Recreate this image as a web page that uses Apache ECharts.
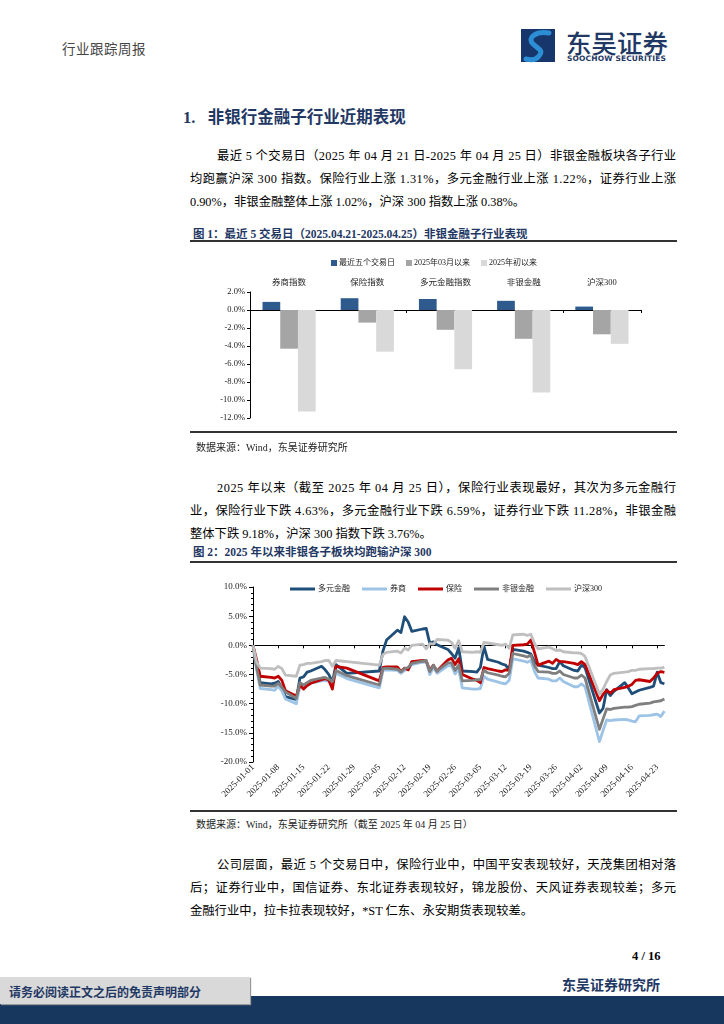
<!DOCTYPE html>
<html><head><meta charset="utf-8">
<script src="https://cdn.jsdelivr.net/npm/echarts@6.0.0/dist/echarts.min.js"></script>
<style>
body{margin:0;background:#fff;}
#page{position:relative;width:724px;height:1024px;overflow:hidden;font-family:'Liberation Serif','Noto Sans CJK SC',serif;color:#000;}
.abs{position:absolute;white-space:nowrap;}
.jl{position:absolute;font-size:12.3px;line-height:23px;height:23px;white-space:nowrap;}
.ll{position:absolute;font-size:12.3px;line-height:23px;white-space:nowrap;}
.navy{color:#1F3864;}
.rule{position:absolute;left:190px;width:487px;height:2px;background:#333;}
.src{position:absolute;left:196px;font-size:10px;white-space:nowrap;color:#222;}
</style></head>
<body><div id="page">
<div class="abs" style="left:62px;top:38px;font-size:13.5px;color:#444;letter-spacing:0.5px;">行业跟踪周报</div>
<svg class="abs" style="left:521px;top:29px" width="36" height="34" viewBox="0 0 36 34">
<rect x="0" y="0" width="34" height="33" fill="#17366B"/>
<path d="M28 4 C14 2 6 9 12 15 C17 20 23 21 18 27 C15 31 9 31 5 30" stroke="#2C8FD6" stroke-width="5" fill="none" stroke-linecap="round"/>
</svg>
<div class="abs" style="left:566px;top:23px;font-size:25.5px;font-family:'Noto Sans CJK SC';font-weight:500;color:#1F3864;">东吴证券</div>
<div class="abs" style="left:567px;top:54px;font-size:7.5px;font-family:'DejaVu Sans';font-weight:bold;color:#1F3864;letter-spacing:0.15px;">SOOCHOW SECURITIES</div>

<div class="abs navy" style="left:183px;top:104px;font-size:16.5px;font-weight:bold;">1.&nbsp;&nbsp;&nbsp;非银行金融子行业近期表现</div>

<div class="jl" data-w="459" style="left:217px;top:145px;">最近 5 个交易日（2025 年 04 月 21 日-2025 年 04 月 25 日）非银金融板块各子行业</div>
<div class="jl" data-w="486" style="left:190px;top:168px;">均跑赢沪深 300 指数。保险行业上涨 1.31%，多元金融行业上涨 1.22%，证券行业上涨</div>
<div class="ll" style="left:190px;top:191px;">0.90%，非银金融整体上涨 1.02%，沪深 300 指数上涨 0.38%。</div>

<div class="abs navy" style="left:193px;top:225px;font-size:11.5px;font-weight:bold;">图 1：最近 5 交易日（2025.04.21-2025.04.25）非银金融子行业表现</div>
<div class="rule" style="top:240px;"></div>
<div id="c1" style="position:absolute;left:180px;top:243px;width:500px;height:190px;"></div>
<div class="rule" style="top:431px;height:1.5px;"></div>
<div class="src" style="top:439px;">数据来源：Wind，东吴证券研究所</div>

<div class="jl" data-w="459" style="left:217px;top:477px;">2025 年以来（截至 2025 年 04 月 25 日），保险行业表现最好，其次为多元金融行</div>
<div class="jl" data-w="486" style="left:190px;top:500px;">业，保险行业下跌 4.63%，多元金融行业下跌 6.59%，证券行业下跌 11.28%，非银金融</div>
<div class="ll" style="left:190px;top:523px;">整体下跌 9.18%，沪深 300 指数下跌 3.76%。</div>

<div class="abs navy" style="left:193px;top:543px;font-size:11.5px;font-weight:bold;">图 2：2025 年以来非银各子板块均跑输沪深 300</div>
<div class="rule" style="top:561px;"></div>
<div id="c2" style="position:absolute;left:180px;top:565px;width:510px;height:245px;"></div>
<div class="rule" style="top:810px;height:1.5px;"></div>
<div class="src" style="top:816px;">数据来源：Wind，东吴证券研究所（截至 2025 年 04 月 25 日）</div>

<div class="jl" data-w="459" style="left:217px;top:854px;">公司层面，最近 5 个交易日中，保险行业中，中国平安表现较好，天茂集团相对落</div>
<div class="jl" data-w="486" style="left:190px;top:877px;">后；证券行业中，国信证券、东北证券表现较好，锦龙股份、天风证券表现较差；多元</div>
<div class="ll" style="left:190px;top:900px;">金融行业中，拉卡拉表现较好，*ST 仁东、永安期货表现较差。</div>

<div class="abs" style="left:632px;top:949px;font-size:12.5px;font-weight:bold;">4 / 16</div>
<div class="abs navy" style="left:562px;top:974px;font-size:14px;font-weight:bold;">东吴证券研究所</div>
<div style="position:absolute;left:0;top:996px;width:724px;height:28px;background:#17375E;"></div>
<div style="position:absolute;left:0;top:977px;width:250px;height:27px;background:#D9D9D9;box-shadow:1px 1px 1px #999;"></div>
<div class="abs navy" style="left:9px;top:983px;font-size:12px;font-weight:bold;">请务必阅读正文之后的免责声明部分</div>
</div>
<script>
// justify each full text line to its target width
Array.prototype.forEach.call(document.querySelectorAll('.jl'), function (el) {
  var target = parseFloat(el.getAttribute('data-w'));
  var txt = el.textContent;
  var span = document.createElement('span');
  span.textContent = txt;
  el.textContent = '';
  el.appendChild(span);
  var w = span.getBoundingClientRect().width;
  var ls = (target - w) / (txt.length - 1);
  span.style.letterSpacing = ls + 'px';
});

var FONT = "'Liberation Serif','Noto Sans CJK SC',serif";

// ---------- Figure 1 data ----------
var barCategories = ['券商指数', '保险指数', '多元金融指数', '非银金融', '沪深300'];
var barLegend = ['最近五个交易日', '2025年03月以来', '2025年初以来'];
var last5Days = [0.90, 1.31, 1.22, 1.02, 0.38];
var sinceMarch = [-4.3, -1.4, -2.2, -3.2, -2.7];
var sinceYearStart = [-11.28, -4.63, -6.59, -9.18, -3.76];

// ---------- Figure 2 data ----------
var tradeDates = ['01-01','01-02','01-03','01-06','01-07','01-08','01-09','01-10','01-13','01-14','01-15','01-16','01-17','01-20','01-21','01-22','01-23','01-24','01-27',
'02-05','02-06','02-07','02-10','02-11','02-12','02-13','02-14','02-17','02-18','02-19','02-20','02-21','02-24','02-25','02-26','02-27','02-28',
'03-03','03-04','03-05','03-06','03-07','03-10','03-11','03-12','03-13','03-14','03-17','03-18','03-19','03-20','03-21','03-24','03-25','03-26','03-27','03-28','03-31',
'04-01','04-02','04-03','04-07','04-08','04-09','04-10','04-11','04-14','04-15','04-16','04-17','04-18','04-21','04-22','04-23','04-24','04-25'];
var lineNames = ['多元金融', '券商', '保险', '非银金融', '沪深300'];
var duoyuan = [0,-3.5,-6.4,-6.6,-6.5,-6.2,-7.4,-8.8,-9.3,-5.6,-5.4,-4.6,-4.4,-3.6,-4.2,-5.0,-6.3,-3.3,-4.8,
-4.4,-1.0,0.9,2.6,2.2,4.9,4.0,2.4,2.8,2.9,0.3,0.6,0.1,-0.7,-1.4,-2.2,-0.4,-4.4,
-4.5,-4.6,-3.8,-0.2,-2.4,-2.9,-3.2,-3.4,-4.2,-0.7,-1.0,-1.2,-1.5,-2.8,-3.4,-3.8,-4.0,-4.0,-2.8,-3.5,-4.3,
-4.4,-3.4,-3.8,-11.6,-10.8,-7.6,-8.6,-7.9,-6.4,-7.3,-8.3,-8.0,-7.7,-7.2,-7.0,-4.6,-6.4,-6.59];
var quanshang = [0,-4.2,-7.4,-7.6,-7.7,-7.0,-7.8,-9.2,-10.0,-7.0,-7.3,-6.9,-6.5,-6.1,-6.0,-6.2,-6.6,-4.8,-5.7,
-7.3,-4.3,-4.2,-4.3,-4.8,-4.3,-4.1,-3.3,-2.9,-2.8,-5.0,-3.8,-4.8,-3.5,-3.5,-4.9,-4.0,-7.3,
-7.5,-7.5,-7.4,-5.3,-5.8,-6.3,-6.5,-6.6,-6.0,-2.3,-2.7,-2.9,-2.6,-4.5,-5.6,-5.8,-6.1,-6.1,-5.6,-6.2,-7.1,
-7.1,-6.6,-7.1,-16.5,-14.6,-12.8,-12.9,-12.8,-12.7,-12.8,-13.0,-13.1,-12.1,-12.0,-11.9,-11.8,-12.2,-11.28];
var baoxian = [0,-2.5,-5.3,-5.5,-5.6,-5.3,-6.0,-7.8,-8.7,-6.8,-7.5,-6.9,-6.5,-5.9,-5.7,-6.0,-7.5,-3.6,-3.9,
-6.1,-3.8,-3.7,-3.7,-4.5,-3.9,-4.2,-2.8,-2.6,-2.7,-4.3,-3.4,-4.4,-2.5,-2.2,-3.3,-2.3,-5.0,
-5.8,-6.0,-6.4,-3.8,-4.0,-4.4,-4.5,-4.2,-4.3,0.0,0.1,0.2,0.9,-1.2,-3.4,-2.7,-3.1,-2.4,-2.8,-2.8,-3.1,
-3.3,-2.8,-3.3,-9.5,-8.4,-7.7,-8.2,-7.6,-7.2,-7.0,-6.7,-6.0,-5.9,-6.2,-5.6,-4.8,-4.5,-4.63];
var feiyin = [0,-3.8,-6.8,-7.0,-7.0,-6.5,-7.2,-8.0,-9.1,-6.4,-6.8,-6.4,-6.0,-5.6,-5.5,-5.8,-6.2,-4.3,-5.2,
-6.8,-4.0,-3.9,-4.1,-4.5,-4.0,-3.8,-3.1,-2.7,-2.6,-4.5,-3.4,-4.4,-3.0,-3.0,-4.3,-3.4,-6.1,
-6.0,-5.9,-5.9,-4.3,-4.7,-5.1,-5.3,-5.4,-4.8,-1.4,-1.8,-2.0,-1.7,-3.5,-4.5,-4.6,-4.8,-4.8,-4.4,-5.0,-5.6,
-5.6,-5.1,-5.6,-14.4,-12.6,-10.9,-11.0,-10.8,-10.6,-10.6,-10.5,-10.3,-10.1,-9.9,-9.7,-9.6,-9.5,-9.18];
var hs300 = [0,-2.9,-3.9,-4.0,-4.1,-3.6,-4.0,-5.1,-5.3,-3.4,-3.3,-3.1,-3.1,-2.8,-2.6,-2.6,-3.6,-2.6,-2.8,
-3.4,-1.6,-1.2,-1.0,-1.3,-0.5,-0.8,0.0,0.2,-0.6,0.3,0.2,1.0,0.9,0.5,-0.5,0.8,-1.1,
-1.2,-1.1,-1.2,0.5,0.4,0.1,0.0,0.2,-0.5,1.8,1.9,1.7,1.9,0.3,-0.6,-0.3,-0.6,-0.9,-0.8,-1.1,-1.3,
-1.3,-1.4,-1.9,-8.4,-7.5,-6.2,-5.1,-4.8,-4.6,-4.5,-4.3,-4.3,-4.1,-4.0,-4.0,-3.9,-3.9,-3.76];
var lineColors = ['#1F4E79', '#9DC3E6', '#C00000', '#7F7F7F', '#BFBFBF'];

// calendar axis (every day from 2025-01-01 to 2025-04-25)
var calendarDays = [];
(function () {
  var d = new Date(Date.UTC(2025, 0, 1)), end = Date.UTC(2025, 3, 25);
  while (d.getTime() <= end) {
    calendarDays.push(d.toISOString().slice(0, 10));
    d = new Date(d.getTime() + 86400000);
  }
})();

var pct1 = function (v) { return v.toFixed(1) + '%'; };

var c1 = echarts.init(document.getElementById('c1'), null, {renderer: 'canvas'});
c1.setOption({
  animation: false,
  textStyle: {fontFamily: FONT},
  legend: {
    data: barLegend, top: 11, left: 146, itemWidth: 6, itemHeight: 6, itemGap: 11,
    icon: 'rect', textStyle: {fontSize: 8, fontFamily: FONT, color: '#222', padding: [0, 0, 0, -3]}
  },
  grid: {left: 70, right: 39, top: 49, bottom: 15, containLabel: false},
  xAxis: [
    {type: 'category', data: barCategories, axisLine: {onZero: true, lineStyle: {color: '#000', width: 1}},
     axisTick: {show: true, length: 3, lineStyle: {color: '#000'}}, axisLabel: {show: false}},
    {type: 'category', data: barCategories, position: 'top', axisLine: {show: false, onZero: false},
     axisTick: {show: false}, axisLabel: {show: true, fontSize: 8.5, color: '#222', margin: 5, fontFamily: FONT}}
  ],
  yAxis: {
    type: 'value', min: -12, max: 2, interval: 2,
    axisLine: {show: true, lineStyle: {color: '#000', width: 1}},
    axisTick: {show: true, length: 3, lineStyle: {color: '#000'}},
    axisLabel: {formatter: pct1, fontSize: 8.5, color: '#222', margin: 5, fontFamily: FONT},
    splitLine: {show: false}
  },
  series: [
    {name: barLegend[0], type: 'bar', data: last5Days, barGap: '0%', barCategoryGap: '32%', itemStyle: {color: '#2E5A8E'}},
    {name: barLegend[1], type: 'bar', data: sinceMarch, barGap: '0%', barCategoryGap: '32%', itemStyle: {color: '#A5A5A5'}},
    {name: barLegend[2], type: 'bar', data: sinceYearStart, barGap: '0%', barCategoryGap: '32%', itemStyle: {color: '#D9D9D9'}}
  ]
});

var allLines = [duoyuan, quanshang, baoxian, feiyin, hs300];
var c2 = echarts.init(document.getElementById('c2'), null, {renderer: 'canvas'});
c2.setOption({
  animation: false,
  textStyle: {fontFamily: FONT},
  legend: {
    data: lineNames, top: 15, left: 105, itemWidth: 25, itemHeight: 3, itemGap: 12, icon: 'rect',
    textStyle: {fontSize: 8, fontFamily: FONT, color: '#222', padding: [0, 0, 0, -2]}
  },
  grid: {left: 73, right: 25.6, top: 22, bottom: 48, containLabel: false},
  xAxis: [
    {type: 'category', data: calendarDays, boundaryGap: false,
     axisLine: {onZero: true, lineStyle: {color: '#000', width: 1}},
     axisTick: {show: true, interval: 6, length: 3, lineStyle: {color: '#000'}},
     axisLabel: {show: false}},
    {type: 'category', data: calendarDays, boundaryGap: false, position: 'bottom',
     axisLine: {show: false, onZero: false}, axisTick: {show: false},
     axisLabel: {show: true, interval: 6, rotate: 45, fontSize: 9, color: '#222', margin: 4, fontFamily: FONT}}
  ],
  yAxis: {
    type: 'value', min: -20, max: 10, interval: 5,
    axisLine: {show: true, lineStyle: {color: '#000', width: 1}},
    axisTick: {show: true, length: 4, lineStyle: {color: '#000'}},
    minorTick: {show: true, splitNumber: 5, length: 2, lineStyle: {color: '#000'}},
    axisLabel: {formatter: pct1, fontSize: 9, color: '#222', margin: 6, fontFamily: FONT},
    splitLine: {show: false}
  },
  series: lineNames.map(function (n, i) {
    return {
      name: n, type: 'line', xAxisIndex: 0, symbol: 'none', connectNulls: true,
      itemStyle: {color: lineColors[i]},
      lineStyle: {color: lineColors[i], width: 2.8, join: 'round'},
      data: tradeDates.map(function (t, k) { return ['2025-' + t, allLines[i][k]]; })
    };
  })
});
</script>
</body></html>
